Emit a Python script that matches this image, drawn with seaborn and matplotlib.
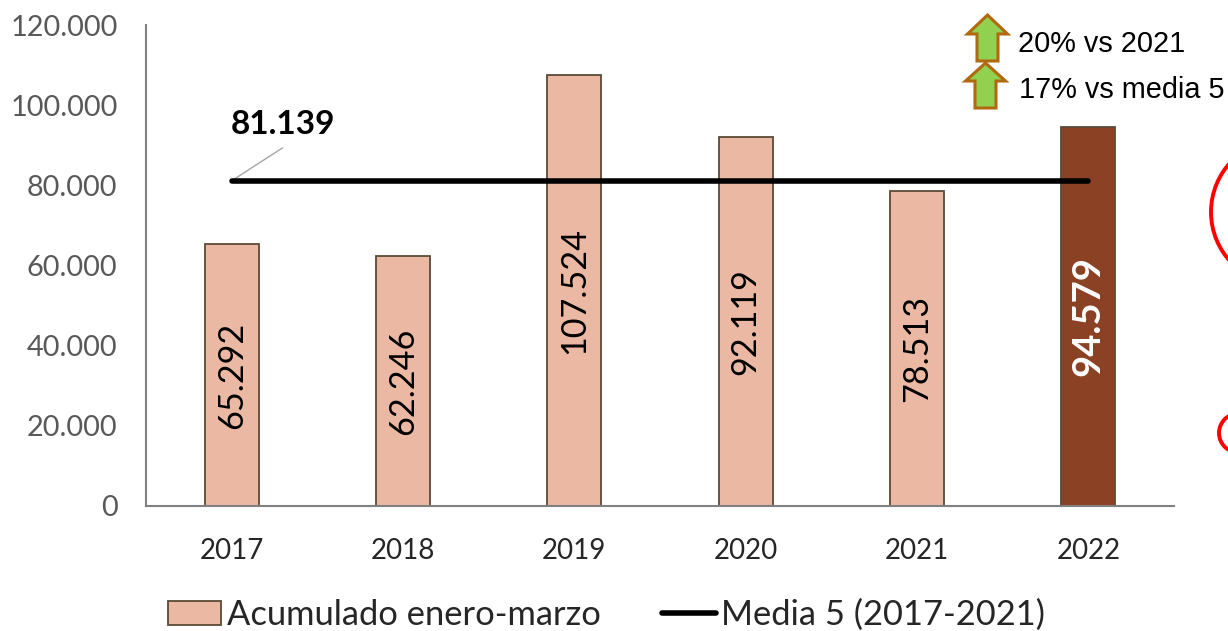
import numpy as np
import pandas as pd
import matplotlib
matplotlib.use("Agg")
import matplotlib.pyplot as plt
from matplotlib.patches import Polygon, Ellipse, Patch
from matplotlib.lines import Line2D
from matplotlib.transforms import Affine2D
import seaborn as sns

years = ["2017", "2018", "2019", "2020", "2021", "2022"]
values = [65292, 62246, 107524, 92119, 78513, 94579]
labels = ["65.292", "62.246", "107.524", "92.119", "78.513", "94.579"]
mean_value = 81139
mean_label = "81.139"
yticks = [0, 20000, 40000, 60000, 80000, 100000, 120000]
ytick_labels = ["0", "20.000", "40.000", "60.000", "80.000", "100.000", "120.000"]
series_names = ["Acumulado enero-marzo", "Media 5 (2017-2021)"]
notes = ["20% vs 2021", "17% vs media 5"]

W, H = 1228, 631
sns.set_theme(style="white")
plt.rcParams["font.family"] = ["Lato", "DejaVu Sans"]

BAR = "#EBB9A3"
DARK = "#8B4123"
EDGE = "#5A4A35"
px = Affine2D().scale(1, -1).translate(0, H)

fig = plt.figure(figsize=(W / 100, H / 100), dpi=100)
ax = fig.add_axes([146 / W, 1 - 506 / H, (1174 - 146) / W, (506 - 25) / H])

df = pd.DataFrame({"year": years, "value": values})
sns.barplot(data=df, x="year", y="value", color=BAR, saturation=1, width=0.315,
            edgecolor=EDGE, linewidth=1.3, ax=ax, zorder=2)
bars = ax.containers[0]
bars[-1].set_facecolor(DARK)

texts = ax.bar_label(bars, labels=labels, label_type="center", rotation=90,
                     fontsize=24.6, color="black", zorder=3)
texts[-1].set_color("white")
texts[-1].set_fontweight("bold")
texts[-1].set_fontsize(27.5)

sns.lineplot(x=np.arange(len(years)), y=[mean_value] * len(years), color="black",
             linewidth=4.0, ax=ax, zorder=4, solid_capstyle="round")

ax.annotate("", xy=(0, mean_value), xytext=(51, 33), textcoords="offset pixels",
            arrowprops=dict(arrowstyle="-", color="#A6A6A6", lw=1, shrinkA=0, shrinkB=0))
ax.annotate(mean_label, xy=(0, mean_value), xytext=(-1, 42), textcoords="offset pixels",
            fontsize=24, fontweight="bold", color="black", ha="left", va="bottom")

ax.set_xlim(-0.5, 5.5)
ax.set_ylim(0, 120000)
ax.set_yticks(yticks, ytick_labels)
ax.set_xlabel("")
ax.set_ylabel("")
ax.tick_params(axis="y", labelsize=20.8, labelcolor="#595959", length=0, pad=20.5)
ax.tick_params(axis="x", labelsize=20, labelcolor="#262626", length=0, pad=23)
for s in ["top", "right"]:
    ax.spines[s].set_visible(False)
for s in ["left", "bottom"]:
    ax.spines[s].set_color("#808080")
    ax.spines[s].set_linewidth(1.5)

handles = [Patch(facecolor=BAR, edgecolor=EDGE, linewidth=1.3),
           Line2D([0], [0], color="black", linewidth=4.0, solid_capstyle="round")]
fig.legend(handles, series_names, loc="center left", bbox_to_anchor=(168 / W, 1 - 615 / H),
           ncol=2, frameon=False, fontsize=24.8, handlelength=1.55, handleheight=0.7,
           handletextpad=0.15, columnspacing=1.8, borderpad=0, borderaxespad=0)


def up_arrow(cx, tip, base, bottom, head, shaft):
    pts = [(cx, tip), (cx + head, base), (cx + shaft, base), (cx + shaft, bottom),
           (cx - shaft, bottom), (cx - shaft, base), (cx - head, base)]
    fig.add_artist(Polygon(pts, closed=True, facecolor="#92D050", edgecolor="#B0690F",
                           linewidth=2.2, transform=px, joinstyle="miter"))


up_arrow(987.5, 15, 34, 61, 20, 10.5)
up_arrow(985.5, 63, 81, 108, 20, 10.5)
fig.text(1018 / W, 1 - 44 / H, notes[0], fontsize=20.8, family="Liberation Sans",
         color="black", va="center", ha="left")
fig.text(1019 / W, 1 - 90 / H, notes[1], fontsize=20.8, family="Liberation Sans",
         color="black", va="center", ha="left")

fig.add_artist(Ellipse((1211 + 73, 212), 146, 146, fill=False, edgecolor="#FF0000",
                       linewidth=2.8, transform=px))
fig.add_artist(Ellipse((1219 + 19.5, 433), 39, 39, fill=False, edgecolor="#FF0000",
                       linewidth=2.8, transform=px))

fig.savefig("out.png", dpi=100)
